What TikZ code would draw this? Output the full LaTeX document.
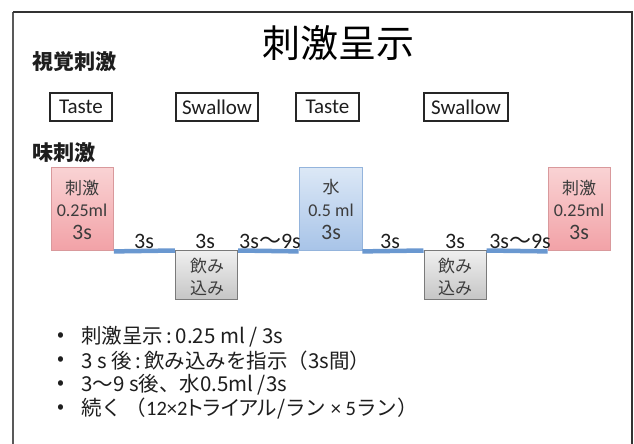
\documentclass[tikz,border=0pt]{standalone}
\usepackage{fontspec}
\setmainfont{Carlito}
\newfontfamily\jp{Noto Sans CJK JP}
\newfontfamily\jpm{Noto Sans CJK JP}
\newfontfamily\jpp{Noto Sans CJK JP}[RawFeature={+palt}]
\newfontfamily\calfont{Carlito}
\definecolor{frameC}{HTML}{333333}
\definecolor{txtC}{HTML}{1E1E1E}
\definecolor{boxtxt}{HTML}{3C3C3C}
\definecolor{pinkT}{HTML}{F9D3D4}
\definecolor{pinkB}{HTML}{F2A2A7}
\definecolor{pinkD}{HTML}{D9999C}
\definecolor{blueT}{HTML}{DCE8F6}
\definecolor{blueB}{HTML}{A8C4E8}
\definecolor{blueD}{HTML}{94B4DC}
\definecolor{grayT}{HTML}{F0F0F0}
\definecolor{grayB}{HTML}{C6C6C6}
\definecolor{grayD}{HTML}{7A7A7A}
\definecolor{lineC}{HTML}{6A98D0}
\begin{document}
\begin{tikzpicture}[x=1pt,y=-1pt,
  vbox/.style={draw=black!85, line width=1.5pt, fill=white, minimum height=28pt, inner sep=0pt, text=txtC, font=\calfont\fontsize{21}{22}\selectfont},
  pinkbox/.style={draw=pinkD, line width=0.8pt, top color=pinkT, bottom color=pinkB, minimum width=62pt, minimum height=83pt, inner sep=0pt},
  bluebox/.style={draw=blueD, line width=0.8pt, top color=blueT, bottom color=blueB, minimum width=63pt, minimum height=83pt, inner sep=0pt},
  graybox/.style={draw=grayD, line width=1pt, top color=grayT, bottom color=grayB, minimum width=62pt, minimum height=49pt, inner sep=0pt},
  btxt/.style={inner sep=0pt, text=boxtxt},
  jbtxt/.style={inner sep=0pt, text=boxtxt, font=\jpm\fontsize{17}{19}\selectfont},
  lbl/.style={inner sep=0pt, text=txtC, font=\calfont\fontsize{22}{24}\selectfont},
  blueline/.style={draw=lineC, line width=4.5pt},
  bul/.style={inner sep=0pt, text=txtC, font=\jpm\fontsize{20.5}{22}\selectfont},
  head/.style={inner sep=0pt, text=txtC, font=\jpm\bfseries\fontsize{21}{23}\selectfont}]
\useasboundingbox (0,0) rectangle (634,444);
\fill[white] (0,0) rectangle (634,444);
% frame (open at bottom)
\draw[gray!70!black, line width=1.3pt] (13,444) -- (13,12);
\draw[frameC, line width=1.3pt] (13,12) -- (632,12) -- (632,444);

% headings
\node[inner sep=0pt, text=black, font=\jp\fontsize{38}{40}\selectfont] (title) at (338,43) {刺激呈示};
\node[head] (visual) at (74,62) {視覚刺激};
\node[head] (taste) at (64,153) {味刺激};

% visual boxes
\node[vbox, minimum width=62pt] (t1) at (81,107) {Taste};
\node[vbox, minimum width=82pt] (s1) at (217,107) {Swallow};
\node[vbox, minimum width=63pt] (t2) at (327.5,107) {Taste};
\node[vbox, minimum width=84pt] (s2) at (466,107) {Swallow};

% stimulus boxes
\node[pinkbox] (p1) at (82.5,208.5) {};
\node[bluebox] (w1) at (330.5,208.5) {};
\node[pinkbox] (p2) at (579,208.5) {};
\node[graybox] (g1) at (206.5,274.5) {};
\node[graybox] (g2) at (455,274.5) {};

% connecting line
\draw[blueline] ([yshift=-1pt]p1.south east) -- ([yshift=-1pt]g1.north west);
\draw[blueline] ([yshift=-1pt]g1.north east) -- ([yshift=-1pt]w1.south west);
\draw[blueline] ([yshift=-1pt]w1.south east) -- ([yshift=-1pt]g2.north west);
\draw[blueline] ([yshift=-1pt]g2.north east) -- ([yshift=-1pt]p2.south west);

% box texts
\node[jbtxt] (p1a) at (82,188) {刺激};
\node[btxt, font=\calfont\fontsize{18}{19}\selectfont] (p1b) at (82,210) {0.25ml};
\node[btxt, font=\calfont\fontsize{22}{24}\selectfont] (p1c) at (82,232) {3s};
\node[jbtxt] (w1a) at (331,187) {水};
\node[btxt, font=\calfont\fontsize{18}{19}\selectfont] (w1b) at (331,210) {0.5 ml};
\node[btxt, font=\calfont\fontsize{22}{24}\selectfont] (w1c) at (331,232) {3s};
\node[jbtxt] (p2a) at (579,188) {刺激};
\node[btxt, font=\calfont\fontsize{18}{19}\selectfont] (p2b) at (579,210) {0.25ml};
\node[btxt, font=\calfont\fontsize{22}{24}\selectfont] (p2c) at (579,232) {3s};
\node[jbtxt] (g1a) at (207,266) {飲み};
\node[jbtxt] (g1b) at (207,288) {込み};
\node[jbtxt] (g2a) at (455,266) {飲み};
\node[jbtxt] (g2b) at (455,288) {込み};

% timing labels
\node[lbl] (l1) at (144,241) {3s};
\node[lbl] (l2) at (205,241) {3s};
\node[lbl] (l3) at (270,241) {3s{\jp 〜}9s};
\node[lbl] (l4) at (390,241) {3s};
\node[lbl] (l5) at (455,241) {3s};
\node[lbl] (l6) at (520,241) {3s{\jp 〜}9s};

% bullets
\foreach \yy/\nm in {337/a,361/b,385/c,409/d}{
  \node[bul] (dot\nm) at (61,\yy) {•};
}
\node[bul, anchor=west] (b1) at (81,337) {刺激呈示\,:\,0.25 ml / 3s};
\node[bul, anchor=west] (b2) at (81,361) {3 s 後\,:\,飲み込みを指示（3s間）};
\node[bul, anchor=west] (b3) at (81,385) {3〜9 s後、水0.5ml /3s};
\node[bul, anchor=west] (b4) at (81,409) {続く\,（{\calfont 12×2}{\jpp トライアル}/ラン{\calfont\ × 5}ラン）};
\end{tikzpicture}
\end{document}
